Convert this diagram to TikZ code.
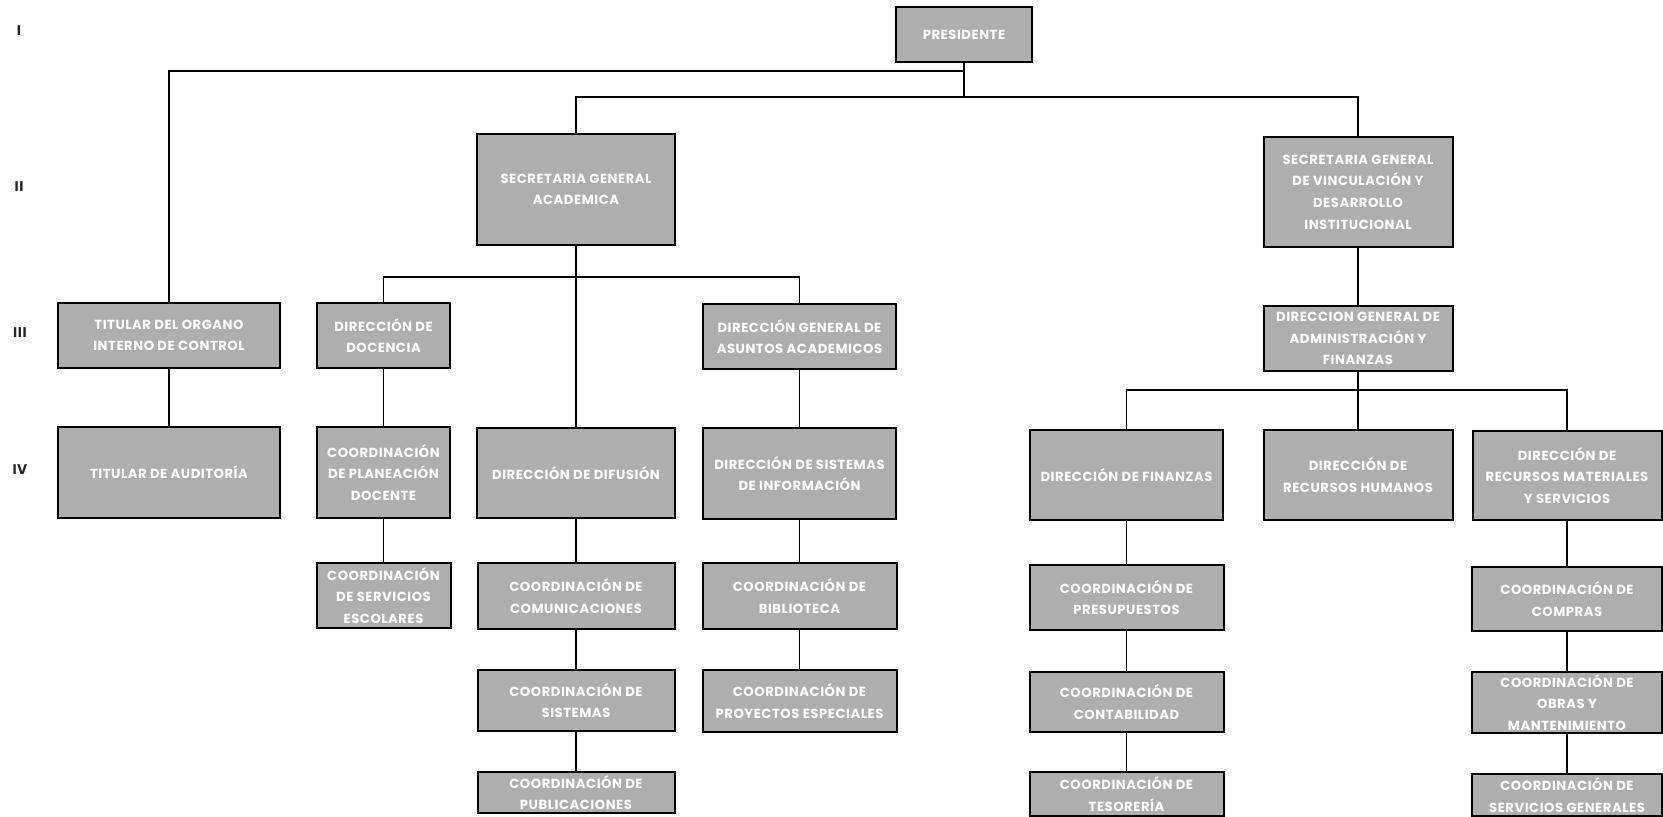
\documentclass[tikz,border=0pt]{standalone}
\usepackage{fontspec}
\setmainfont{Poppins}[LetterSpace=4]
\definecolor{boxgray}{RGB}{174,174,174}
\tikzset{
  box/.style={draw=black, line width=1pt, fill=boxgray, text=white, align=center, inner sep=1pt, font=\fontsize{6.6}{10.8}\selectfont\bfseries},
  lvl/.style={font=\fontsize{7}{8}\selectfont\bfseries, text=black!85},
  link/.style={line width=0.9pt}
}
\begin{document}
\begin{tikzpicture}[x=0.5pt, y=-0.5pt]
\fill[white] (0,0) rectangle (1663,817);
\useasboundingbox (0,0) rectangle (1663,817);
% niveles
\node(lI) at(19, 31)[lvl]{I};
\node(lII) at(19, 187)[lvl]{II};
\node(lIII) at(20, 333)[lvl]{III};
\node(lIV) at(20, 470)[lvl]{IV};
% nivel I y II
\node(pres) at(964, 34.5)[box, minimum width=68pt, minimum height=27.5pt]{PRESIDENTE};
\node(sga) at(576, 189.5)[box, minimum width=99pt, minimum height=55.5pt]{SECRETARIA GENERAL\\ACADEMICA};
\node(sgv) at(1358, 192)[box, minimum width=94.5pt, minimum height=55pt]{SECRETARIA GENERAL\\DE VINCULACIÓN Y\\DESARROLLO\\INSTITUCIONAL};
% nivel III
\node(toic) at(169, 335.5)[box, minimum width=111pt, minimum height=32.5pt]{TITULAR DEL ORGANO\\INTERNO DE CONTROL};
\node(ddoc) at(383.5, 335.5)[box, minimum width=66.5pt, minimum height=32.5pt]{DIRECCIÓN DE\\DOCENCIA};
\node(dgaa) at(799.5, 336.5)[box, minimum width=96.5pt, minimum height=32.5pt]{DIRECCIÓN GENERAL DE\\ASUNTOS ACADEMICOS};
\node(dgaf) at(1358, 338.5)[box, minimum width=94.5pt, minimum height=32.5pt]{DIRECCION GENERAL DE\\ADMINISTRACIÓN Y\\FINANZAS};
% nivel IV
\node(taud) at(169, 472.5)[box, minimum width=111pt, minimum height=45.5pt]{TITULAR DE AUDITORÍA};
\node(cpd) at(383.5, 472.5)[box, minimum width=66.5pt, minimum height=45.5pt]{COORDINACIÓN\\DE PLANEACIÓN\\DOCENTE};
\node(ddif) at(576, 473)[box, minimum width=99pt, minimum height=45pt]{DIRECCIÓN DE DIFUSIÓN};
\node(dsi) at(799.5, 473.5)[box, minimum width=96.5pt, minimum height=45.5pt]{DIRECCIÓN DE SISTEMAS\\DE INFORMACIÓN};
\node(dfin) at(1126.5, 475)[box, minimum width=96.5pt, minimum height=45pt]{DIRECCIÓN DE FINANZAS};
\node(drh) at(1358, 475)[box, minimum width=94.5pt, minimum height=45pt]{DIRECCIÓN DE\\RECURSOS HUMANOS};
\node(drm) at(1567, 475.5)[box, minimum width=94.5pt, minimum height=44.5pt]{DIRECCIÓN DE\\RECURSOS MATERIALES\\Y SERVICIOS};
% coordinaciones
\node(cse) at(383.5, 595.5)[box, minimum width=67pt, minimum height=32.5pt]{COORDINACIÓN\\DE SERVICIOS\\ESCOLARES};
\node(ccom) at(576, 596)[box, minimum width=98.5pt, minimum height=33pt]{COORDINACIÓN DE\\COMUNICACIONES};
\node(csis) at(576, 700.5)[box, minimum width=98.5pt, minimum height=30.5pt]{COORDINACIÓN DE\\SISTEMAS};
\node(cpub) at(576, 792.5)[box, minimum width=98.5pt, minimum height=20.5pt]{COORDINACIÓN DE\\PUBLICACIONES};
\node(cbib) at(799.5, 596)[box, minimum width=97pt, minimum height=33pt]{COORDINACIÓN DE\\BIBLIOTECA};
\node(cpe) at(799.5, 701)[box, minimum width=97pt, minimum height=31pt]{COORDINACIÓN DE\\PROYECTOS ESPECIALES};
\node(cpre) at(1126.5, 597.5)[box, minimum width=97pt, minimum height=32.5pt]{COORDINACIÓN DE\\PRESUPUESTOS};
\node(ccon) at(1126.5, 702)[box, minimum width=97pt, minimum height=30pt]{COORDINACIÓN DE\\CONTABILIDAD};
\node(ctes) at(1126.5, 794)[box, minimum width=97pt, minimum height=22pt]{COORDINACIÓN DE\\TESORERÍA};
\node(ccmp) at(1567, 599)[box, minimum width=95pt, minimum height=32pt]{COORDINACIÓN DE\\COMPRAS};
\node(cobr) at(1567, 702.5)[box, minimum width=95pt, minimum height=30.5pt]{COORDINACIÓN DE\\OBRAS Y\\MANTENIMIENTO};
\node(csg) at(1567, 795)[box, minimum width=95pt, minimum height=21pt]{COORDINACIÓN DE\\SERVICIOS GENERALES};
% lineas
\coordinate(j1) at(964, 71);
\coordinate(j2) at(964, 97);
\coordinate(j3) at(576, 277);
\coordinate(j4) at(1358, 390);
\draw[link] (pres) -- (j2);
\draw[link] (j1) -| (toic);
\draw[link] (j2) -| (sga);
\draw[link] (j2) -| (sgv);
\draw[link] (toic) -- (taud);
\draw[link] (sga) -- (ddif);
\draw[link] (j3) -| (ddoc);
\draw[link] (j3) -| (dgaa);
\draw[link] (ddoc) -- (cpd);
\draw[link] (cpd) -- (cse);
\draw[link] (dgaa) -- (dsi);
\draw[link] (dsi) -- (cbib);
\draw[link] (cbib) -- (cpe);
\draw[link] (ddif) -- (ccom);
\draw[link] (ccom) -- (csis);
\draw[link] (csis) -- (cpub);
\draw[link] (sgv) -- (dgaf);
\draw[link] (dgaf) -- (j4);
\draw[link] (j4) -| (dfin);
\draw[link] (j4) -- (drh);
\draw[link] (j4) -| (drm);
\draw[link] (dfin) -- (cpre);
\draw[link] (cpre) -- (ccon);
\draw[link] (ccon) -- (ctes);
\draw[link] (drm) -- (ccmp);
\draw[link] (ccmp) -- (cobr);
\draw[link] (cobr) -- (csg);
\end{tikzpicture}
\end{document}
